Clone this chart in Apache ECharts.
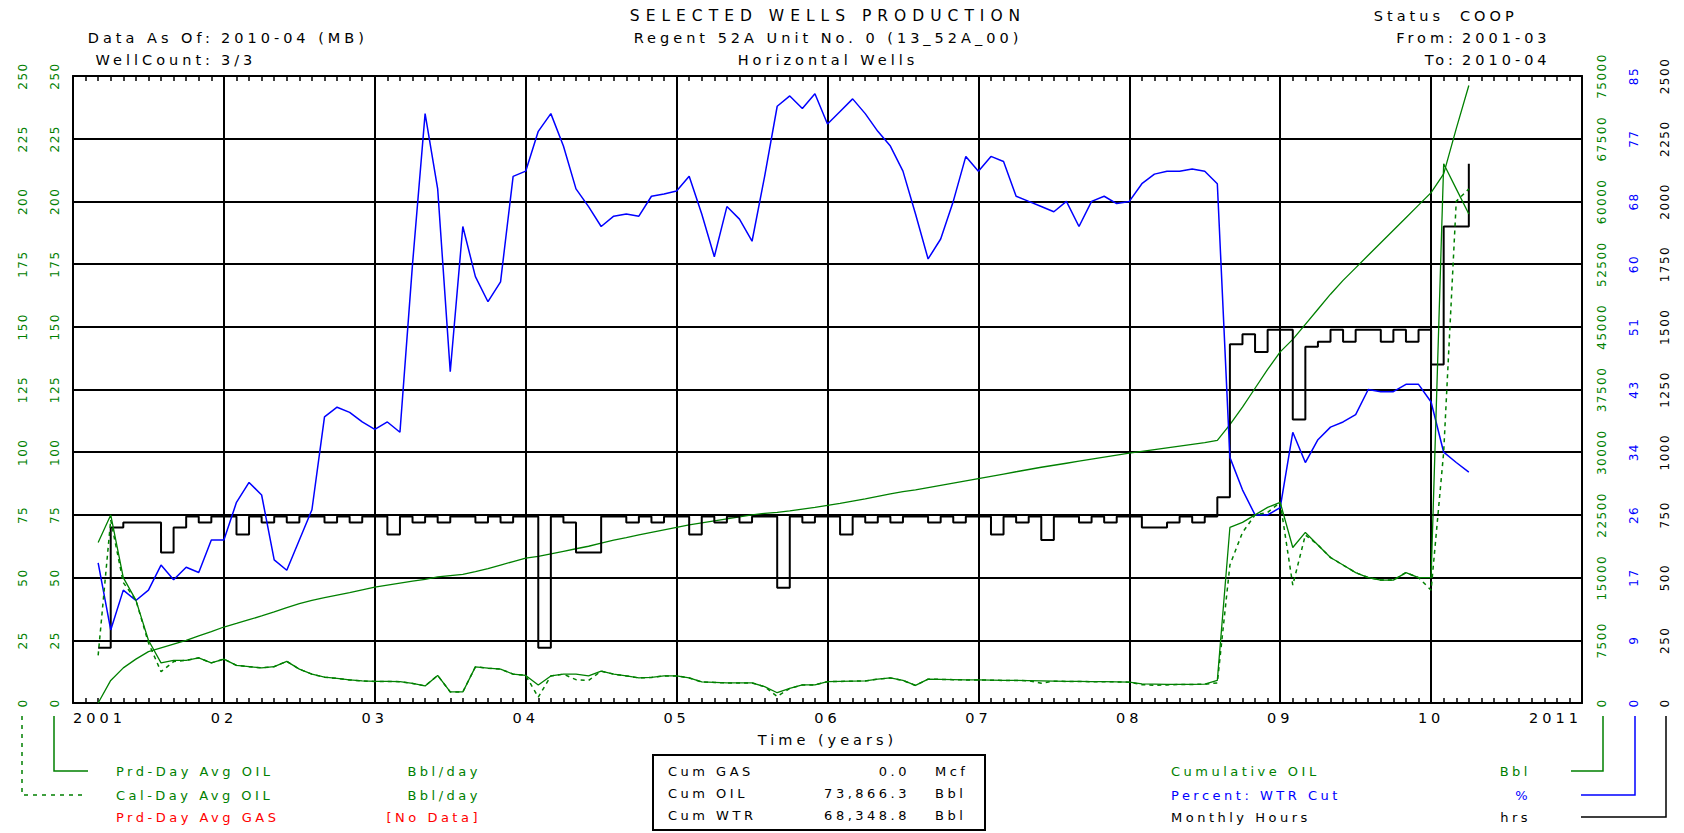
<!DOCTYPE html>
<html><head><meta charset="utf-8">
<script src="https://cdn.jsdelivr.net/npm/echarts@6/dist/echarts.min.js"></script>
<style>
html,body{margin:0;padding:0;background:#fff;}
#main{width:1684px;height:833px;}
#main svg text{letter-spacing:3.5px;}
#main svg text[transform^="matrix"]{letter-spacing:1.5px;}
#main svg text[style*="15.5px"]{letter-spacing:6px;}
#main svg text[style*="14.5px"]{letter-spacing:4px;}
</style></head><body><div id="main"></div>
<script>
// ---------- DATA ----------
// months 2001-03 .. 2010-04
const firstMonth = '2001-03';
const lastMonth = '2010-04';
const months = [];
for (let y = 2001; y <= 2010; y++) {
  for (let m = 1; m <= 12; m++) {
    const s = y + '-' + (m < 10 ? '0' + m : m);
    if (s >= firstMonth && s <= lastMonth) months.push(s);
  }
}
const xTickLabels = ['2001','02','03','04','05','06','07','08','09','10','2011'];
const wcTickLabels = ['0','9','17','26','34','43','51','60','68','77','85'];

// Prd-Day Avg OIL (Bbl/day)
const prdDayOil = [
  64, 75, 50, 41, 25, 16, 17, 17, 18, 16,
  17.5, 15, 14.5, 14, 14.5, 16.6, 13.5, 11.5, 10.3, 9.8, 9.2, 8.8,
  8.6, 8.6, 8.5, 7.8, 6.8, 11, 4.4, 4.4, 14.4, 13.9, 13.5, 11.5,
  11, 7.2, 10.8, 11.5, 11.5, 10.8, 12.7, 11.5, 10.8, 10, 10.2, 10.8,
  10.8, 10, 8.4, 8.2, 8, 8, 8, 6.5, 4.1, 5.8, 7.2, 7.2,
  8.5, 8.6, 8.7, 8.8, 9.5, 10, 9, 7, 9.5, 9.4, 9.3, 9.2,
  9.2, 9.1, 9, 9, 8.9, 8.8, 8.7, 8.6, 8.6, 8.5, 8.5, 8.4,
  8.3, 7.6, 7.5, 7.4, 7.4, 7.4, 7.5, 9, 70, 72, 75, 78,
  80, 62, 68, 63, 58, 55, 52, 50, 49, 49, 52, 50,
  50, 215, 205, 195
];
// Cal-Day Avg OIL (Bbl/day)
const calDayOil = [
  19, 73, 48, 41, 24, 12.5, 16.5, 17, 18, 16,
  17.5, 15, 14.5, 14, 14.5, 16.6, 13.5, 11.5, 10.3, 9.8, 9.2, 8.8,
  8.6, 8.6, 8.5, 7.8, 6.8, 11, 4.4, 4.4, 14.4, 13.9, 13.5, 11.5,
  11, 2.3, 10.8, 11.5, 9.3, 9, 12.7, 11.5, 10.8, 10, 10.2, 10.8,
  10.8, 10, 8.4, 8.2, 8, 8, 8, 6.5, 2.6, 5.8, 7.2, 7.2,
  8.5, 8.6, 8.7, 8.8, 9.5, 10, 9, 7, 9.5, 9.4, 9.3, 9.2,
  9.2, 9.1, 9, 9, 8.9, 7.9, 8.7, 8.6, 8.6, 8.5, 8.5, 8.4,
  8.3, 7.3, 7.1, 7.2, 7.4, 7.4, 7.5, 8, 55, 68, 75, 76,
  80, 47, 67, 63, 58, 55, 52, 50, 49, 49, 52, 50,
  45, 100, 200, 205
];
// Cumulative OIL (Bbl)
const cumOil = [
  0, 2700, 4200, 5250, 6150, 6600, 7050, 7500, 8040, 8550,
  9090, 9510, 9960, 10410, 10890, 11400, 11880, 12270, 12600, 12900, 13200, 13530,
  13860, 14100, 14340, 14580, 14790, 15090, 15240, 15390, 15720, 16080, 16500, 16920,
  17340, 17550, 17850, 18150, 18450, 18750, 19110, 19470, 19770, 20100, 20400, 20700,
  21000, 21300, 21540, 21780, 22020, 22260, 22500, 22680, 22800, 22980, 23190, 23400,
  23640, 23880, 24150, 24420, 24720, 25020, 25290, 25500, 25770, 26040, 26310, 26580,
  26850, 27120, 27390, 27660, 27930, 28200, 28440, 28680, 28920, 29160, 29400, 29640,
  29880, 30090, 30300, 30510, 30720, 30930, 31140, 31410, 33300, 35400, 37650, 39900,
  42000, 43500, 45300, 47100, 48900, 50550, 52050, 53550, 55050, 56550, 58050, 59550,
  61050, 63300, 68700, 73866
];
// Percent: WTR Cut (%)
const wtrCut = [
  19.0, 9.9, 15.3, 13.9, 15.3, 18.7, 16.7, 18.4, 17.7, 22.1,
  22.1, 27.2, 29.9, 28.2, 19.4, 18.0, 22.1, 26.2, 38.8, 40.1, 39.4, 38.1,
  37.1, 38.1, 36.7, 59.5, 79.9, 69.7, 44.9, 64.6, 57.8, 54.4, 57.1, 71.4,
  72.1, 77.5, 79.9, 75.5, 69.7, 67.3, 64.6, 66.0, 66.3, 66.0, 68.7, 69.0,
  69.4, 71.4, 66.3, 60.5, 67.3, 65.6, 62.6, 71.4, 80.9, 82.3, 80.6, 82.6,
  78.5, 80.2, 81.9, 79.9, 77.5, 75.5, 72.1, 66.3, 60.2, 62.9, 68.0, 74.1,
  72.1, 74.1, 73.4, 68.7, 68.0, 67.3, 66.6, 68.0, 64.6, 68.0, 68.7, 67.7,
  68.0, 70.4, 71.7, 72.1, 72.1, 72.4, 72.1, 70.4, 33.3, 28.9, 25.5, 25.5,
  26.5, 36.7, 32.6, 35.7, 37.4, 38.1, 39.1, 42.5, 42.2, 42.2, 43.2, 43.2,
  40.8, 34.0, 32.6, 31.3
];
// Monthly Hours (hrs)
const monthlyHours = [
  220, 700, 720, 720, 720, 600, 700, 744, 720, 744,
  744, 672, 744, 720, 744, 720, 744, 744, 720, 744, 720, 744,
  744, 672, 744, 720, 744, 720, 744, 744, 720, 744, 720, 744,
  744, 220, 744, 720, 600, 600, 744, 744, 720, 744, 720, 744,
  744, 672, 744, 720, 744, 720, 744, 744, 460, 744, 720, 744,
  744, 672, 744, 720, 744, 720, 744, 744, 720, 744, 720, 744,
  744, 672, 744, 720, 744, 650, 744, 744, 720, 744, 720, 744,
  744, 700, 700, 720, 744, 720, 744, 820, 1430, 1470, 1400, 1488,
  1488, 1130, 1420, 1440, 1488, 1440, 1488, 1488, 1440, 1488, 1440, 1488,
  1350, 1900, 1900, 2150
];

// ---------- CHART ----------
const FONT = '"DejaVu Sans", sans-serif';
const GREEN = '#008000', BLUE = '#0000ff', RED = '#ff0000', BLACK = '#000000';
const xOf = s => +s.slice(0, 4) + (+s.slice(5) - 1) / 12;
const pairs = arr => months.map((m, i) => [xOf(m), arr[i]]);

const chart = echarts.init(document.getElementById('main'), null, { renderer: 'svg' });

const baseX = {
  type: 'value', min: 2001, max: 2011, interval: 1,
  axisLine: { show: true, onZero: false, lineStyle: { color: BLACK, width: 2 } },
  axisTick: { show: true, inside: true, length: 5, lineStyle: { color: BLACK, width: 1.5 } },
  minorTick: { show: true, splitNumber: 12, length: 5, lineStyle: { color: BLACK, width: 1.5 } },
};
const yBase = (min, max, interval, color, margin, extra) => Object.assign({
  type: 'value', min, max, interval,
  axisLine: { show: false },
  axisTick: { show: false },
  splitLine: { show: false },
  axisLabel: { rotate: 90, margin, color, fontFamily: FONT, fontSize: 12, formatter: v => String(v) }
}, extra || {});

const txt = (x, y, text, color, align, size) => ({
  type: 'text', x, y, silent: true,
  style: { text, fill: color || BLACK, font: (size || 13) + 'px ' + FONT, textAlign: align || 'left', textVerticalAlign: 'middle' }
});
const pline = (pts, color, dash) => ({
  type: 'polyline', silent: true,
  shape: { points: pts },
  style: { stroke: color, lineWidth: 1.5, fill: null, lineDash: dash || null }
});
const H = 14.5; // header font size

const wcAxis = yBase(0, 85, 8.5, BLUE, 46, { position: 'right' });
wcAxis.axisLabel.formatter = v => wcTickLabels[Math.round(v / 8.5)];

const option = {
  animation: false,
  backgroundColor: '#fff',
  grid: { left: 73, right: 102, top: 76, bottom: 130 },
  xAxis: [
    Object.assign({}, baseX, {
      position: 'bottom',
      splitLine: { show: true, lineStyle: { color: BLACK, width: 2 } },
      axisLabel: {
        margin: 7, color: BLACK, fontFamily: FONT, fontSize: 14.5,
        alignMinLabel: 'left', alignMaxLabel: 'right',
        formatter: v => xTickLabels[Math.round(v - 2001)]
      },
      name: 'Time (years)', nameLocation: 'middle', nameGap: 29,
      nameTextStyle: { color: BLACK, fontFamily: FONT, fontSize: 14.5 }
    }),
    Object.assign({}, baseX, {
      position: 'top', splitLine: { show: false }, axisLabel: { show: false }
    })
  ],
  yAxis: [
    yBase(0, 250, 25, GREEN, 12, {
      position: 'left',
      axisLine: { show: true, lineStyle: { color: BLACK, width: 2 } },
      splitLine: { show: true, lineStyle: { color: BLACK, width: 2 } }
    }),
    yBase(0, 250, 25, GREEN, 44, { position: 'left' }),
    yBase(0, 75000, 7500, GREEN, 14, {
      position: 'right',
      axisLine: { show: true, lineStyle: { color: BLACK, width: 2 } }
    }),
    wcAxis,
    yBase(0, 2500, 250, BLACK, 77, { position: 'right' })
  ],
  series: [
    { name: 'Cumulative OIL', type: 'line', xAxisIndex: 0, yAxisIndex: 2, data: pairs(cumOil),
      showSymbol: false, lineStyle: { color: GREEN, width: 1.3 } },
    { name: 'Monthly Hours', type: 'line', xAxisIndex: 0, yAxisIndex: 4, data: pairs(monthlyHours), step: 'end',
      showSymbol: false, lineStyle: { color: BLACK, width: 2 } },
    { name: 'Percent: WTR Cut', type: 'line', xAxisIndex: 0, yAxisIndex: 3, data: pairs(wtrCut),
      showSymbol: false, lineStyle: { color: BLUE, width: 1.5 } },
    { name: 'Cal-Day Avg OIL', type: 'line', xAxisIndex: 0, yAxisIndex: 1, data: pairs(calDayOil),
      showSymbol: false, lineStyle: { color: GREEN, width: 1.5, type: [4, 4] } },
    { name: 'Prd-Day Avg OIL', type: 'line', xAxisIndex: 0, yAxisIndex: 0, data: pairs(prdDayOil),
      showSymbol: false, lineStyle: { color: GREEN, width: 1.3 } }
  ],
  graphic: [
    txt(828, 16, 'SELECTED WELLS PRODUCTION', BLACK, 'center', 15.5),
    txt(828, 38, 'Regent 52A Unit No. 0 (13_52A_00)', BLACK, 'center', H),
    txt(828, 60, 'Horizontal Wells', BLACK, 'center', H),
    txt(214, 38, 'Data As Of:', BLACK, 'right', H),
    txt(221, 38, '2010-04 (MB)', BLACK, 'left', H),
    txt(214, 60, 'WellCount:', BLACK, 'right', H),
    txt(221, 60, '3/3', BLACK, 'left', H),
    txt(1444, 16, 'Status', BLACK, 'right', H),
    txt(1460, 16, 'COOP', BLACK, 'left', H),
    txt(1457, 38, 'From:', BLACK, 'right', H),
    txt(1462, 38, '2001-03', BLACK, 'left', H),
    txt(1457, 60, 'To:', BLACK, 'right', H),
    txt(1462, 60, '2010-04', BLACK, 'left', H),
    // left legend
    pline([[22, 716], [22, 795], [82, 795]], GREEN, [4, 5]),
    pline([[54, 716], [54, 771], [88, 771]], GREEN),
    txt(116, 771, 'Prd-Day Avg OIL', GREEN),
    txt(481, 771, 'Bbl/day', GREEN, 'right'),
    txt(116, 795, 'Cal-Day Avg OIL', GREEN),
    txt(481, 795, 'Bbl/day', GREEN, 'right'),
    txt(116, 817, 'Prd-Day Avg GAS', RED),
    txt(481, 817, '[No Data]', RED, 'right'),
    // cum box
    { type: 'rect', silent: true, shape: { x: 653, y: 755, width: 332, height: 75 },
      style: { fill: null, stroke: BLACK, lineWidth: 2 } },
    txt(668, 771, 'Cum GAS'), txt(910, 771, '0.0', BLACK, 'right'), txt(935, 771, 'Mcf'),
    txt(668, 793, 'Cum OIL'), txt(910, 793, '73,866.3', BLACK, 'right'), txt(935, 793, 'Bbl'),
    txt(668, 815, 'Cum WTR'), txt(910, 815, '68,348.8', BLACK, 'right'), txt(935, 815, 'Bbl'),
    // right legend
    txt(1171, 771, 'Cumulative OIL', GREEN),
    txt(1531, 771, 'Bbl', GREEN, 'right'),
    txt(1171, 795, 'Percent: WTR Cut', BLUE),
    txt(1531, 795, '%', BLUE, 'right'),
    txt(1171, 817, 'Monthly Hours', BLACK),
    txt(1531, 817, 'hrs', BLACK, 'right'),
    pline([[1571, 771], [1603, 771], [1603, 716]], GREEN),
    pline([[1581, 795], [1635, 795], [1635, 716]], BLUE),
    pline([[1581, 817], [1666, 817], [1666, 716]], BLACK)
  ]
};
chart.setOption(option);
</script></body></html>
